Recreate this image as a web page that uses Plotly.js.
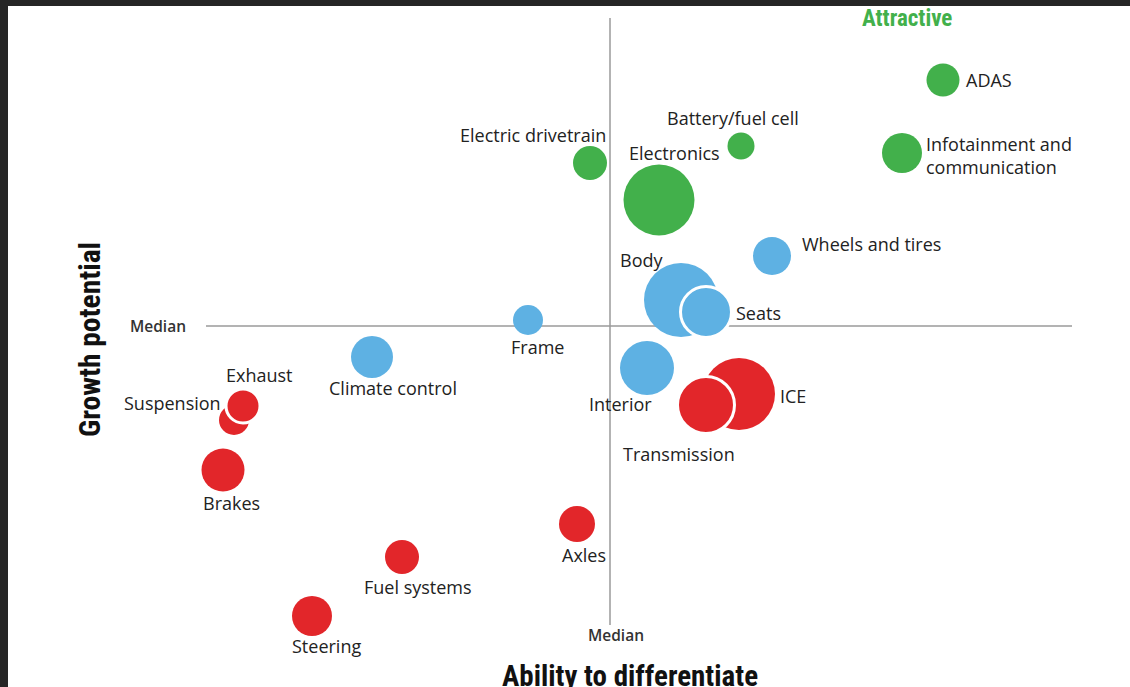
<!DOCTYPE html>
<html>
<head>
<meta charset="utf-8">
<script src="https://cdn.plot.ly/plotly-3.0.1.min.js"></script>
<style>
  html, body { margin: 0; padding: 0; background: #262626; width: 1130px; height: 687px; overflow: hidden; }
  #chart { position: absolute; left: 8px; top: 6px; width: 1122px; height: 681px; background: #fff; }
</style>
</head>
<body>
<div id="chart"></div>
<script>
// ---- Data (ability to differentiate = x, growth potential = y, medians at 0) ----
const attractiveNames = ["Electric drivetrain", "Electronics", "Battery/fuel cell", "Infotainment and communication", "ADAS"];
const attractiveX     = [-0.20, 0.49, 1.31, 2.92, 3.33];
const attractiveY     = [1.63, 1.26, 1.80, 1.73, 2.46];
const attractiveSize  = [34, 71, 27, 40, 33];

const midNames = ["Frame", "Climate control", "Interior", "Wheels and tires", "Body", "Seats"];
const midX     = [-0.82, -2.38, 0.37, 1.62, 0.71, 0.96];
const midY     = [0.06, -0.31, -0.42, 0.70, 0.26, 0.14];
const midSize  = [30, 42, 54, 38, 74, 51];

const riskyNames = ["Brakes", "Suspension", "Exhaust", "Steering", "Fuel systems", "Axles", "ICE", "Transmission"];
const riskyX     = [-3.87, -3.76, -3.67, -2.98, -2.08, -0.33, 1.29, 0.96];
const riskyY     = [-1.44, -0.94, -0.80, -2.90, -2.31, -1.98, -0.68, -0.79];
const riskySize  = [43, 30, 34, 40, 34, 36, 72, 57];

// ---- Styling / placement (not data) ----
const GREEN = "#42b04b", BLUE = "#5eb1e3", RED = "#e2262a";
const outlined = {"Seats": true, "Transmission": true, "Exhaust": true};
// label offsets in px from bubble centre: [dx, dyDown, xanchor]
const labelPlace = {
  "Electric drivetrain": [18, -28, "right"],
  "Electronics": [15, -47, "center"],
  "Battery/fuel cell": [-8, -28, "center"],
  "Infotainment and communication": [22, 2, "left"],
  "ADAS": [21, 0, "left"],
  "Frame": [9, 27, "center"],
  "Climate control": [21, 31, "center"],
  "Interior": [-27, 36, "center"],
  "Wheels and tires": [28, -12, "left"],
  "Body": [-40, -40, "center"],
  "Seats": [28, 1, "left"],
  "Brakes": [8, 33, "center"],
  "Suspension": [-11, -17, "right"],
  "Exhaust": [16, -31, "center"],
  "Steering": [14, 30, "center"],
  "Fuel systems": [16, 30, "center"],
  "Axles": [7, 31, "center"],
  "ICE": [39, 2, "left"],
  "Transmission": [-27, 49, "center"]
};
const labelText = { "Infotainment and communication": "Infotainment and<br>communication" };

function mkTrace(names, xs, ys, sizes, color) {
  return {
    type: "scatter", mode: "markers", x: xs, y: ys, text: names,
    cliponaxis: false, hoverinfo: "text",
    marker: {
      size: sizes, color: color, opacity: 1,
      line: { color: "#ffffff", width: names.map(n => outlined[n] ? 3 : 0) }
    },
    showlegend: false
  };
}

const traces = [
  mkTrace(attractiveNames, attractiveX, attractiveY, attractiveSize, GREEN),
  mkTrace(midNames, midX, midY, midSize, BLUE),
  mkTrace(riskyNames, riskyX, riskyY, riskySize, RED)
];

const LABEL_FONT = { family: "Open Sans, Noto Sans, sans-serif", size: 18, color: "#222222" };
const COND = "Liberation Sans Narrow, Roboto Condensed, DejaVu Sans Condensed, sans-serif";

const annotations = [];
function addLabels(names, xs, ys) {
  names.forEach((n, i) => {
    const p = labelPlace[n];
    annotations.push({
      x: xs[i], y: ys[i], xref: "x", yref: "y", showarrow: false,
      text: labelText[n] || n, xanchor: p[2], yanchor: "middle", align: "left",
      xshift: p[0], yshift: -p[1], font: LABEL_FONT
    });
  });
}
addLabels(attractiveNames, attractiveX, attractiveY);
addLabels(midNames, midX, midY);
addLabels(riskyNames, riskyX, riskyY);

const XR = [-4.04, 4.62], YR = [-2.99, 3.08];

annotations.push(
  { x: XR[0], y: 0, xref: "x", yref: "y", showarrow: false, text: "Median", xanchor: "right", yanchor: "middle", xshift: -18,
    font: { family: "Open Sans, sans-serif", size: 15.5, color: "#333", weight: 600 } },
  { x: 0, y: YR[0], xref: "x", yref: "y", showarrow: false, text: "Median", xanchor: "center", yanchor: "middle", xshift: 6, yshift: -10,
    font: { family: "Open Sans, sans-serif", size: 15.5, color: "#333", weight: 600 } },
  { x: 2.97, y: 3.08, xref: "x", yref: "y", showarrow: false, text: "Attractive", xanchor: "center", yanchor: "middle",
    font: { family: COND, size: 23, color: GREEN, weight: 700 } },
  { x: -4.32, y: -2.59, xref: "x", yref: "y", showarrow: false, text: "Risky", xanchor: "center", yanchor: "middle",
    font: { family: COND, size: 23, color: RED, weight: 700 } },
  { x: 0, y: -0.14, xref: "paper", yref: "y", showarrow: false, text: "Growth potential", textangle: -90,
    xanchor: "center", yanchor: "middle", xshift: -116,
    font: { family: COND, size: 29.5, color: "#111", weight: 700 } },
  { x: 0.20, y: YR[0], xref: "x", yref: "y", showarrow: false, text: "Ability to differentiate",
    xanchor: "center", yanchor: "middle", yshift: -51,
    font: { family: COND, size: 29, color: "#111", weight: 700 } }
);

const layout = {
  width: 1122, height: 681,
  margin: { l: 198, r: 58, t: 12, b: 62 },
  paper_bgcolor: "#ffffff", plot_bgcolor: "#ffffff",
  xaxis: { range: XR, visible: false, fixedrange: true },
  yaxis: { range: YR, visible: false, fixedrange: true },
  shapes: [
    { type: "line", xref: "x", yref: "y", x0: XR[0], x1: XR[1], y0: 0, y1: 0, line: { color: "#9a9a9a", width: 1.5 }, layer: "below" },
    { type: "line", xref: "x", yref: "y", x0: 0, x1: 0, y0: YR[0], y1: YR[1], line: { color: "#9a9a9a", width: 1.5 }, layer: "below" }
  ],
  annotations: annotations,
  showlegend: false
};

Plotly.newPlot("chart", traces, layout, { displayModeBar: false, staticPlot: true });
</script>
</body>
</html>
